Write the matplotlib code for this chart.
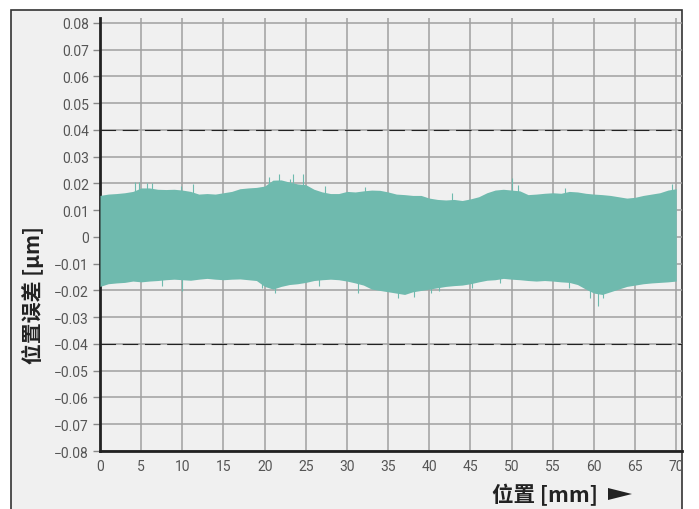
import matplotlib.pyplot as plt
from matplotlib.patches import Rectangle, Polygon
from matplotlib.ticker import FuncFormatter

plt.rcParams['font.family'] = ['Roboto', 'DejaVu Sans']

# envelope of the error band at 1 mm steps
pos_mm = list(range(0, 71))
upper = [0.0155, 0.016, 0.0162, 0.0165, 0.017, 0.0183, 0.0183, 0.0178, 0.0177, 0.0178,
         0.0175, 0.017, 0.016, 0.0162, 0.016, 0.0165, 0.017, 0.018, 0.0183, 0.0185,
         0.019, 0.0212, 0.0213, 0.0205, 0.0198, 0.0195, 0.0178, 0.0168, 0.0162, 0.0162,
         0.017, 0.0168, 0.0172, 0.0175, 0.0174, 0.0168, 0.016, 0.0158, 0.0155, 0.0155,
         0.0145, 0.014, 0.0138, 0.014, 0.0136, 0.0142, 0.015, 0.0165, 0.0175, 0.0178,
         0.0175, 0.0172, 0.0158, 0.016, 0.0163, 0.0165, 0.0163, 0.017, 0.0168, 0.0163,
         0.016, 0.0158, 0.0155, 0.015, 0.0145, 0.0148, 0.0155, 0.016, 0.0165, 0.0175,
         0.018]
lower = [-0.0185, -0.0175, -0.0172, -0.017, -0.0165, -0.0168, -0.0165, -0.0163, -0.016, -0.0158,
         -0.016, -0.0162, -0.0158, -0.0155, -0.0158, -0.016, -0.0158, -0.0157, -0.016, -0.0163,
         -0.0185, -0.0195, -0.0185, -0.0178, -0.0175, -0.017, -0.0163, -0.016, -0.0158, -0.016,
         -0.0165, -0.0172, -0.018, -0.0195, -0.02, -0.0205, -0.021, -0.0215, -0.0205, -0.02,
         -0.0195, -0.019, -0.0185, -0.0182, -0.018, -0.0175, -0.0168, -0.0162, -0.016, -0.0155,
         -0.0158, -0.016, -0.0163, -0.0165, -0.0163, -0.0165, -0.0168, -0.017, -0.0178, -0.0195,
         -0.021, -0.0215, -0.0205, -0.0195, -0.0185, -0.018, -0.0175, -0.0172, -0.017, -0.0168,
         -0.0165]

# single spikes sticking out of the band (top and bottom)
spike_x = [4.25, 4.7, 5.7, 6.3, 9.8, 11.3, 20.5, 21.7, 23.1, 23.5, 24.7, 27.3, 32.2,
           42.8, 50.0, 50.8, 56.5, 69.5,
           7.5, 10.0, 19.7, 21.3, 26.6, 31.3, 36.2, 38.2, 40.2, 41.2, 45.2, 48.6,
           57.0, 59.5, 60.5, 61.1]
spike_y = [0.0206, 0.0205, 0.0203, 0.02, 0.019, 0.0196, 0.0225, 0.0236, 0.0215, 0.0234,
           0.0234, 0.019, 0.0186, 0.0165, 0.0221, 0.0194, 0.0184, 0.0196,
           -0.0184, -0.0203, -0.019, -0.021, -0.0184, -0.0209, -0.0228, -0.0225, -0.0209,
           -0.0203, -0.019, -0.0171, -0.019, -0.0228, -0.0259, -0.0228]

limit = 0.04
x_ticks = list(range(0, 71, 5))
y_ticks = [-0.08, -0.07, -0.06, -0.05, -0.04, -0.03, -0.02, -0.01, 0,
           0.01, 0.02, 0.03, 0.04, 0.05, 0.06, 0.07, 0.08]

band_color = '#6fbaae'

fig = plt.figure(figsize=(6.99, 5.10), dpi=100, facecolor='white')
fig.patches.append(Rectangle((11 / 699, -0.05), 671 / 699, 1.05 - 11 / 510,
                             transform=fig.transFigure, facecolor='#f0f0f0',
                             edgecolor='#333333', linewidth=1.2, zorder=-10))

ax = fig.add_axes([100 / 699, 58 / 510, 582 / 699, 433 / 510])
ax.set_facecolor('none')

ax.fill_between(pos_mm, lower, upper, color=band_color, linewidth=0, zorder=3)
ax.vlines(spike_x, 0, spike_y, color=band_color, linewidth=0.8, zorder=3)

ax.axhline(limit, color='#222222', lw=0.8, linestyle=(0, (14, 6)), zorder=4)
ax.axhline(-limit, color='#222222', lw=0.8, linestyle=(0, (14, 6)), zorder=4)

ax.set_xlim(0, 70.7)
ax.set_ylim(-0.08, 0.0818)
ax.set_xticks(x_ticks)
ax.set_yticks(y_ticks)
ax.yaxis.set_major_formatter(FuncFormatter(
    lambda v, p: '0' if abs(v) < 1e-9 else f'{v:.2f}'.replace('-', '\u2212')))
ax.grid(True, color='#a0a0a0', linewidth=1.1, zorder=1)
ax.set_axisbelow(True)

ax.tick_params(axis='x', length=0, pad=6, labelsize=10, labelcolor='#555555')
ax.tick_params(axis='y', length=5, width=1, color='#888888', pad=3,
               labelsize=10, labelcolor='#555555')

for s in ['top', 'right']:
    ax.spines[s].set_visible(False)
ax.spines['left'].set_linewidth(2)
ax.spines['bottom'].set_linewidth(2)
ax.spines['left'].set_color('#222222')
ax.spines['bottom'].set_color('#222222')

cjk = ['Noto Sans CJK SC', 'DejaVu Sans']
fig.text(33 / 699, 1 - 295 / 510, '位置误差 [μm]', rotation=90, ha='center', va='center',
         fontsize=15, fontweight='bold', color='#222222', family=cjk)
fig.text(598 / 699, 1 - 495 / 510, '位置 [mm]', ha='right', va='center',
         fontsize=15.5, fontweight='bold', color='#222222', family=cjk)
# arrow after the x label
fig.patches.append(Polygon([(608 / 699, 1 - 489 / 510), (608 / 699, 1 - 501 / 510),
                            (632 / 699, 1 - 495 / 510)], closed=True,
                           transform=fig.transFigure, facecolor='#222222',
                           edgecolor='none'))

fig.savefig('out.png', dpi=100, facecolor='white')
